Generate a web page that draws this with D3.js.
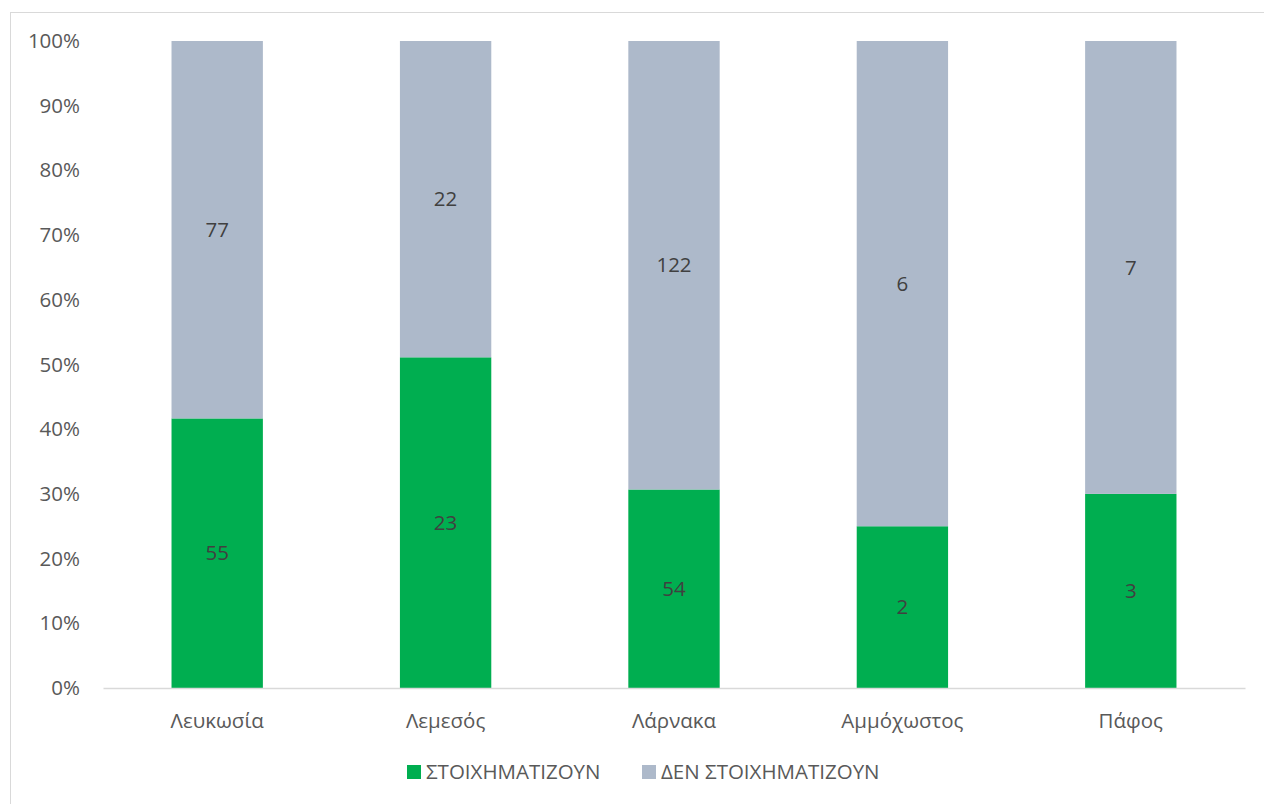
<!DOCTYPE html>
<html>
<head>
<meta charset="utf-8">
<script src="https://cdn.jsdelivr.net/npm/d3@7"></script>
<style>
  html, body { margin: 0; padding: 0; background: #fff; }
  svg { display: block; font-family: "Open Sans", "Noto Sans", sans-serif; }
</style>
</head>
<body>
<svg id="chart" width="1264" height="804"></svg>
<script>
// Cities and counts per group
const categories = ["Λευκωσία", "Λεμεσός", "Λάρνακα", "Αμμόχωστος", "Πάφος"];
const betting = [55, 23, 54, 2, 3];
const notBetting = [77, 22, 122, 6, 7];
const seriesNames = ["ΣΤΟΙΧΗΜΑΤΙΖΟΥΝ", "ΔΕΝ ΣΤΟΙΧΗΜΑΤΙΖΟΥΝ"];
const seriesColors = ["#00AE50", "#ADB9CA"];
const tickValues = [0, 0.1, 0.2, 0.3, 0.4, 0.5, 0.6, 0.7, 0.8, 0.9, 1];

const FS = "20.5px";

const rows = categories.map((c, i) => ({
  city: c,
  s0: betting[i],
  s1: notBetting[i],
  total: betting[i] + notBetting[i]
}));

const svg = d3.select("#chart");

// outer frame
svg.append("rect")
  .attr("x", 10.5).attr("y", 12.5)
  .attr("width", 1264).attr("height", 800)
  .attr("fill", "none").attr("stroke", "#D9D9D9").attr("stroke-width", 1);

const x = d3.scaleBand().domain(categories).range([103, 1245]).paddingInner(0.6).paddingOuter(0.3);
const y = d3.scaleLinear().domain([0, 1]).range([688, 41]);

// y axis labels
const yAxis = d3.axisLeft(y).tickValues(tickValues).tickFormat(d3.format(".0%")).tickSize(0).tickPadding(0);
const yg = svg.append("g").attr("transform", "translate(80,0)").call(yAxis);
yg.select(".domain").remove();
yg.selectAll("text").attr("fill", "#595959").style("font-size", FS).style("font-family", "\"Open Sans\", sans-serif");

// stacked shares
const stack = d3.stack().keys(["s0", "s1"]).value((d, k) => d[k] / d.total);
const layers = stack(rows);

const groups = svg.append("g").selectAll("g").data(layers).join("g")
  .attr("fill", (d, i) => seriesColors[i]);

groups.selectAll("rect").data(d => d).join("rect")
  .attr("x", d => x(d.data.city))
  .attr("width", x.bandwidth())
  .attr("y", d => y(d[1]))
  .attr("height", d => y(d[0]) - y(d[1]));

// value labels centred on each segment
layers.forEach((layer, i) => {
  svg.append("g").selectAll("text").data(layer).join("text")
    .attr("x", d => x(d.data.city) + x.bandwidth() / 2)
    .attr("y", d => y((d[0] + d[1]) / 2))
    .attr("dy", "0.35em")
    .attr("text-anchor", "middle")
    .attr("fill", "#404040")
    .style("font-size", FS)
    .text(d => d.data[layer.key]);
});

// x axis
const xAxis = d3.axisBottom(x).tickSize(0).tickPadding(25);
const xg = svg.append("g").attr("transform", "translate(0,688)").call(xAxis);
xg.select(".domain").attr("stroke", "#D9D9D9").attr("stroke-width", 1.5);
xg.selectAll("text").attr("fill", "#595959").style("font-size", FS).style("font-family", "\"Open Sans\", sans-serif");

// legend
const legendItems = [{ x: 407 }, { x: 642 }];
legendItems.forEach((it, i) => {
  svg.append("rect")
    .attr("x", it.x).attr("y", 765).attr("width", 14).attr("height", 14)
    .attr("fill", seriesColors[i]);
  svg.append("text")
    .attr("x", it.x + 19).attr("y", 772).attr("dy", "0.35em")
    .attr("fill", "#595959").style("font-size", FS)
    .text(seriesNames[i]);
});
</script>
</body>
</html>
